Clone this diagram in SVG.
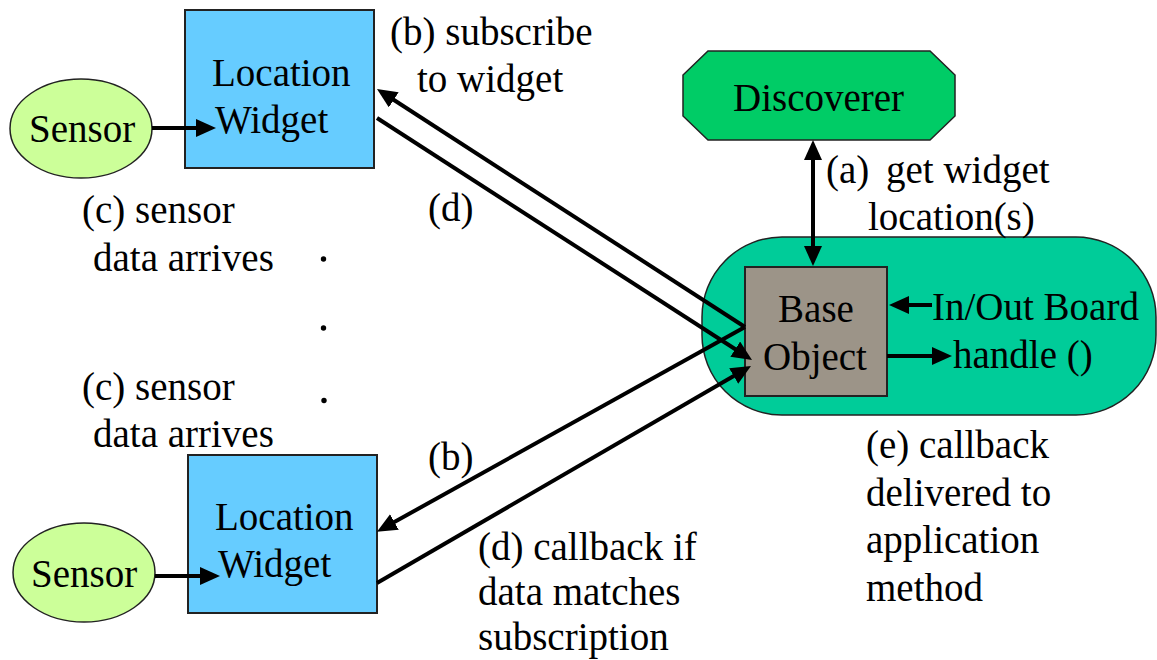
<svg xmlns="http://www.w3.org/2000/svg" width="1157" height="660" viewBox="0 0 1157 660">
<style>
text{font-family:"Liberation Serif","Times New Roman",serif;font-size:39px;fill:#000}
.sensor{fill:#ccff99;stroke:#222;stroke-width:1.5}
.widget{fill:#66ccff;stroke:#222;stroke-width:2}
.conn{stroke:#000;stroke-width:4;fill:none}
</style>
<defs>
<marker id="ah" viewBox="0 0 20 18" refX="14" refY="9" markerWidth="20" markerHeight="18" markerUnits="userSpaceOnUse" orient="auto-start-reverse">
<path d="M0,0 L20,9 L0,18 Z" fill="#000"/>
</marker>
</defs>
<rect width="1157" height="660" fill="#fff"/>
<g id="app">
<rect x="702" y="237" width="454" height="178" rx="80" ry="80" fill="#00cc99" stroke="#222" stroke-width="1.5"/>
</g>
<g id="discoverer">
<polygon points="708,51 930,51 955,75 955,116 930,140 708,140 683,116 683,75" fill="#00cc66" stroke="#222" stroke-width="1.5"/>
<text x="733" y="111">Discoverer</text>
</g>
<g id="base-object">
<rect x="745" y="267" width="142" height="129" fill="#9c9488" stroke="#222" stroke-width="2"/>
<text x="816" y="322" text-anchor="middle">Base</text>
<text x="763" y="370">Object</text>
</g>
<g id="sensor-top">
<ellipse cx="81" cy="128.5" rx="71" ry="49.5" class="sensor"/>
<text x="29" y="142">Sensor</text>
</g>
<g id="widget-top">
<rect x="185" y="10" width="189" height="158" class="widget"/>
<text x="212" y="86">Location</text>
<text x="215" y="133">Widget</text>
</g>
<g id="sensor-bottom">
<ellipse cx="84" cy="572.5" rx="71" ry="49.5" class="sensor"/>
<text x="31" y="587">Sensor</text>
</g>
<g id="widget-bottom">
<rect x="188" y="455" width="189" height="158" class="widget"/>
<text x="215" y="530">Location</text>
<text x="218" y="577">Widget</text>
</g>
<g id="labels">
<text x="390" y="45">(b) subscribe</text>
<text x="417" y="92">to widget</text>
<text x="82" y="223">(c) sensor</text>
<text x="93" y="271">data arrives</text>
<text x="428" y="221">(d)</text>
<text x="82" y="400">(c) sensor</text>
<text x="93" y="447">data arrives</text>
<text x="428" y="470">(b)</text>
<text x="478" y="560">(d) callback if</text>
<text x="478" y="605">data matches</text>
<text x="478" y="650">subscription</text>
<text x="826" y="183">(a) <tspan x="886">get widget</tspan></text>
<text x="868" y="230">location(s)</text>
<text x="932" y="320">In/Out Board</text>
<text x="953" y="368">handle ()</text>
<text x="866" y="458">(e) callback</text>
<text x="866" y="506">delivered to</text>
<text x="866" y="553">application</text>
<text x="866" y="601">method</text>
<circle cx="323.5" cy="259" r="2.7" fill="#000"/>
<circle cx="323.5" cy="328" r="2.7" fill="#000"/>
<circle cx="324" cy="400.5" r="2.7" fill="#000"/>
</g>
<g id="connectors">
<line class="conn" x1="152" y1="128" x2="210" y2="128" marker-end="url(#ah)"/>
<line class="conn" x1="155" y1="576" x2="214" y2="576" marker-end="url(#ah)"/>
<line class="conn" x1="745" y1="327" x2="382" y2="92.3" marker-end="url(#ah)"/>
<line class="conn" x1="377" y1="118" x2="747" y2="356.7" marker-end="url(#ah)"/>
<line class="conn" x1="745" y1="327" x2="382.2" y2="528.8" marker-end="url(#ah)"/>
<line class="conn" x1="377" y1="583" x2="745.8" y2="369" marker-end="url(#ah)"/>
<line class="conn" x1="813" y1="146" x2="813" y2="260" marker-start="url(#ah)" marker-end="url(#ah)"/>
<line class="conn" x1="932" y1="305" x2="895" y2="305" marker-end="url(#ah)"/>
<line class="conn" x1="887" y1="356" x2="946" y2="356" marker-end="url(#ah)"/>
</g>
</svg>
